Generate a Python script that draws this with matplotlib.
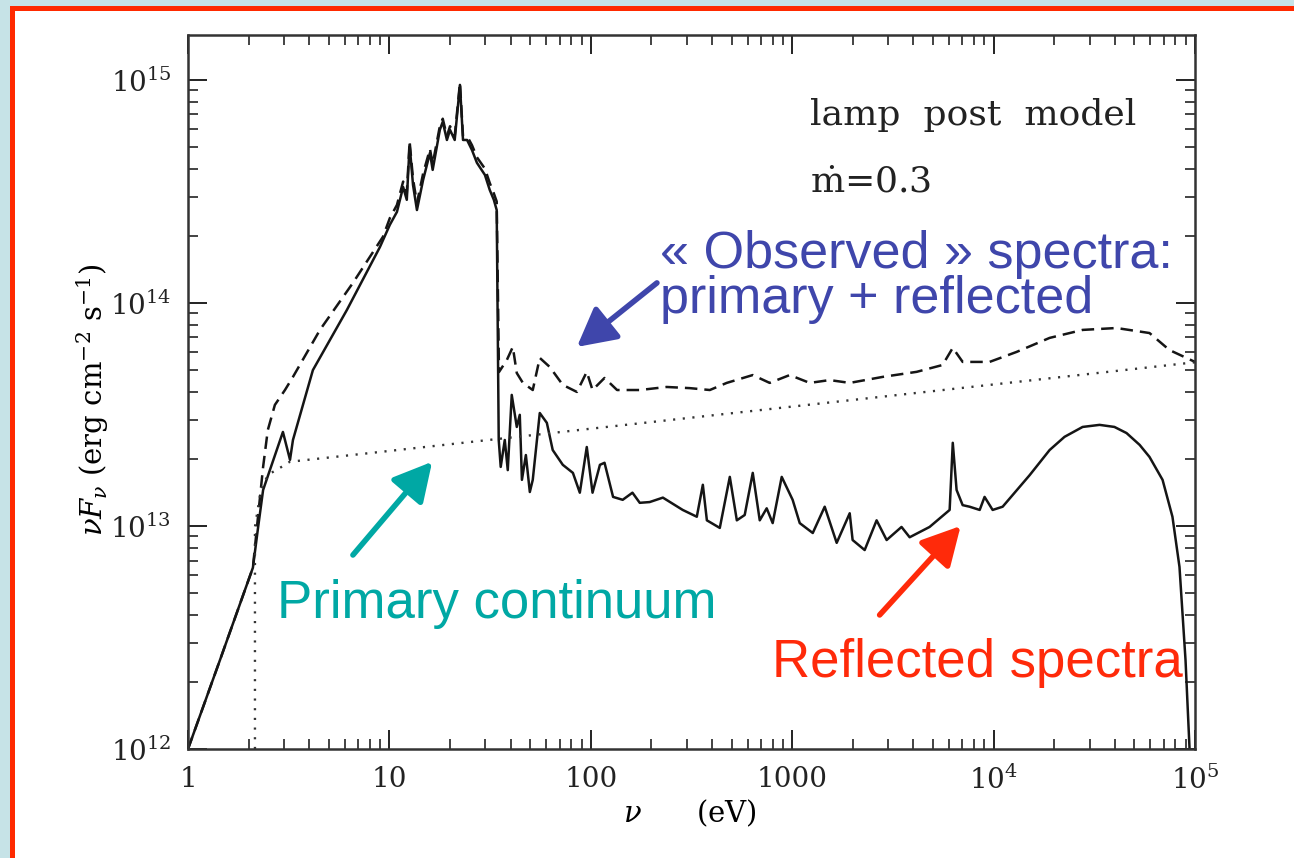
import matplotlib
matplotlib.use("Agg")
import matplotlib.pyplot as plt
from matplotlib.patches import Rectangle
from matplotlib.ticker import LogLocator, NullFormatter

plt.rcParams['mathtext.fontset'] = 'dejavuserif'
plt.rcParams['font.family'] = 'DejaVu Serif'

# reflected spectrum (solid), photon energy in eV and nuFnu in erg cm^-2 s^-1
nu_refl = [1, 1.44, 2.10, 2.23, 2.36, 2.55, 2.96, 3.21, 3.32, 4.17,
           6.15, 8.97, 10.05, 10.9, 11.7, 12.2, 12.6, 13.1, 13.7, 14.7,
           15.9, 16.4, 17.8, 18.4, 19.3, 20.0, 21.1, 22.4, 23.2, 24.3,
           25.7, 27.2, 29.8, 31.5, 33.0, 34.1, 34.9, 35.7, 37.4, 38.7,
           40.5, 42.9, 44.4, 45.5, 47.6, 49.8, 51.5, 55.8, 60.5, 64.7,
           72.6, 81.5, 88.2, 95.5, 102, 111, 117, 129, 144, 161,
           175, 196, 228, 286, 336, 360, 377, 437, 490, 531,
           581, 637, 690, 747, 800, 887, 1005, 1090, 1265, 1450,
           1663, 1930, 1995, 2290, 2625, 2944, 3490, 3830, 4810, 6050,
           6270, 6550, 7020, 7600, 8530, 9020, 9890, 11090, 15100, 18970,
           22500, 27670, 33590, 39800, 45710, 53100, 59430, 69020, 77270, 83750,
           89740, 93970]
F_refl = [1.0e12, 2.5e12, 6.5e12, 9.9e12, 1.45e13, 1.78e13, 2.64e13, 1.98e13, 2.43e13, 5.0e13,
          9.3e13, 1.78e14, 2.24e14, 2.56e14, 3.31e14, 2.90e14, 5.11e14, 3.38e14, 2.61e14, 3.56e14,
          4.71e14, 3.95e14, 5.97e14, 6.49e14, 5.38e14, 5.97e14, 5.38e14, 9.5e14, 5.38e14, 5.38e14,
          4.85e14, 4.25e14, 3.75e14, 3.21e14, 2.90e14, 2.61e14, 2.43e13, 1.84e13, 2.43e13, 1.78e13,
          3.87e13, 2.78e13, 3.15e13, 1.61e13, 2.08e13, 1.42e13, 1.61e13, 3.21e13, 2.90e13, 2.19e13,
          1.88e13, 1.73e13, 1.41e13, 2.26e13, 1.41e13, 1.88e13, 1.92e13, 1.35e13, 1.31e13, 1.41e13,
          1.27e13, 1.28e13, 1.34e13, 1.18e13, 1.10e13, 1.53e13, 1.06e13, 9.8e12, 1.66e13, 1.06e13,
          1.12e13, 1.73e13, 1.06e13, 1.20e13, 1.03e13, 1.66e13, 1.31e13, 1.03e13, 9.3e12, 1.22e13,
          8.4e12, 1.14e13, 8.65e12, 7.8e12, 1.06e13, 8.65e12, 9.9e12, 8.9e12, 9.9e12, 1.18e13,
          2.36e13, 1.45e13, 1.24e13, 1.22e13, 1.18e13, 1.35e13, 1.18e13, 1.22e13, 1.69e13, 2.19e13,
          2.51e13, 2.78e13, 2.84e13, 2.78e13, 2.61e13, 2.31e13, 2.04e13, 1.61e13, 1.10e13, 6.55e12,
          2.5e12, 1.0e12]

# observed = primary + reflected (dashed)
nu_obs = [1, 1.44, 2.10, 2.20, 2.36, 2.49, 2.70, 3.03, 3.32, 4.52,
          6.59, 9.29, 10.05, 10.9, 11.7, 12.2, 12.6, 13.1, 13.7, 14.7,
          15.9, 16.4, 17.8, 18.4, 19.3, 20.0, 21.1, 22.4, 23.2, 24.3,
          25.7, 27.2, 29.8, 31.5, 33.0, 34.1, 35.0, 38.3, 41.0, 42.9,
          46.0, 51.5, 55.8, 62.6, 72.6, 85.3, 95.5, 102, 117, 135,
          175, 238, 310, 390, 473, 637, 773, 972, 1222, 1535,
          1930, 2812, 4150, 5580, 6270, 7020, 9550, 13000, 18970, 27670,
          40740, 59430, 74650, 100000]
F_obs = [1.0e12, 2.5e12, 6.5e12, 9.9e12, 1.84e13, 2.69e13, 3.49e13, 4.07e13, 4.66e13, 7.57e13,
         1.23e14, 1.98e14, 2.4e14, 2.75e14, 3.5e14, 3.1e14, 5.3e14, 3.6e14, 2.8e14, 3.8e14,
         4.9e14, 4.2e14, 6.2e14, 6.7e14, 5.6e14, 6.2e14, 5.6e14, 9.7e14, 5.6e14, 5.6e14,
         5.1e14, 4.5e14, 4.0e14, 3.45e14, 3.1e14, 2.85e14, 4.9e13, 5.55e13, 6.35e13, 4.85e13,
         4.38e13, 4.07e13, 5.67e13, 5.16e13, 4.29e13, 3.99e13, 4.91e13, 4.07e13, 4.61e13, 4.07e13,
         4.07e13, 4.20e13, 4.15e13, 4.07e13, 4.38e13, 4.75e13, 4.38e13, 4.75e13, 4.38e13, 4.51e13,
         4.38e13, 4.66e13, 4.91e13, 5.27e13, 6.29e13, 5.44e13, 5.44e13, 6.03e13, 6.97e13, 7.57e13,
         7.72e13, 7.33e13, 6.15e13, 5.44e13]

# primary power-law continuum (dotted), cut off below ~2 eV
nu_prim = [2.15, 2.15, 2.3, 2.5, 2.8, 3.2, 10, 100, 1000, 1e4, 1e5]
F_prim = [1.0e12, 9.9e12, 1.45e13, 1.7e13, 1.8e13, 1.94e13, 2.17e13, 2.73e13, 3.43e13, 4.31e13, 5.42e13]

xticks = [1, 10, 100, 1000, 1e4, 1e5]
xticklabels = ['1', '10', '100', '1000', r'$10^4$', r'$10^5$']
yticks = [1e12, 1e13, 1e14, 1e15]
yticklabels = [r'$10^{12}$', r'$10^{13}$', r'$10^{14}$', r'$10^{15}$']

W, H = 1294, 858
fig = plt.figure(figsize=(W / 100, H / 100), dpi=100)
fig.patch.set_facecolor('#c6e3e7')
fig.add_artist(Rectangle((10 / W, 0), 1, 1 - 6 / H, transform=fig.transFigure,
                         facecolor='#ff2a00', edgecolor='none', zorder=-3))
fig.add_artist(Rectangle((15 / W, 0), 1, 1 - 11 / H, transform=fig.transFigure,
                         facecolor='white', edgecolor='none', zorder=-2))

ax = fig.add_axes([188 / W, 1 - 749 / H, 1007 / W, 714 / H])
ax.set_facecolor('none')

ax.plot(nu_refl, F_refl, color='#151515', lw=1.8)
ax.plot(nu_obs, F_obs, color='#151515', lw=1.8, dashes=(5, 2.8))
ax.plot(nu_prim, F_prim, color='#333333', lw=1.7, linestyle=(0, (0.9, 3.2)))

ax.set_xscale('log')
ax.set_yscale('log')
ax.set_xlim(1, 1e5)
ax.set_ylim(1e12, 1.59e15)

ax.set_xticks(xticks)
ax.set_xticklabels(xticklabels)
ax.set_yticks(yticks)
ax.set_yticklabels(yticklabels)
ax.xaxis.set_minor_locator(LogLocator(base=10, subs=range(2, 10)))
ax.yaxis.set_minor_locator(LogLocator(base=10, subs=range(2, 10)))
ax.xaxis.set_minor_formatter(NullFormatter())
ax.yaxis.set_minor_formatter(NullFormatter())
ax.tick_params(which='both', direction='in', top=True, right=True,
               colors='#222222', labelsize=20, pad=12)
ax.tick_params(which='major', length=14, width=1.4)
ax.tick_params(which='minor', length=7, width=1.2)
for sp in ax.spines.values():
    sp.set_linewidth(1.8)
    sp.set_color('#333333')

fig.text(93 / W, 1 - 400 / H, r'$\nu F_\nu$ (erg cm$^{-2}$ s$^{-1}$)',
         rotation=90, ha='center', va='center', fontsize=21)
fig.text(690 / W, 1 - 813 / H, r'$\nu$      (eV)', ha='center', va='center', fontsize=21)

ax.text(0.6177, 0.8739, 'lamp  post  model', transform=ax.transAxes,
        fontsize=26, color='#222222', va='baseline')
ax.text(0.6177, 0.7801, r'$\dot{\rm m}$=0.3', transform=ax.transAxes,
        fontsize=26, color='#222222', va='baseline')

sans = 'Liberation Sans'
blue, teal, red = '#3f46ab', '#00a8a4', '#ff2a0a'
ax.text(0.4687, 0.6737, '« Observed » spectra:', transform=ax.transAxes,
        fontsize=37.5, family=sans, color=blue, va='baseline')
ax.text(0.4687, 0.6100, 'primary + reflected', transform=ax.transAxes,
        fontsize=37.5, family=sans, color=blue, va='baseline')
ax.text(0.0884, 0.1835, 'Primary continuum', transform=ax.transAxes,
        fontsize=38, family=sans, color=teal, va='baseline')
ax.text(0.5799, 0.1008, 'Reflected spectra', transform=ax.transAxes,
        fontsize=38, family=sans, color=red, va='baseline')

arrow = dict(arrowstyle='-|>,head_length=0.45,head_width=0.24', lw=4,
             mutation_scale=52, shrinkA=0, shrinkB=0)
ax.annotate('', xy=(85.3, 6.35e13), xytext=(213, 1.23e14),
            arrowprops=dict(arrow, color=blue), annotation_clip=False)
ax.annotate('', xy=(16.3, 1.94e13), xytext=(6.59, 7.41e12),
            arrowprops=dict(arrow, color=teal), annotation_clip=False)
ax.annotate('', xy=(6860, 1.0e13), xytext=(2717, 3.99e12),
            arrowprops=dict(arrow, color=red), annotation_clip=False)

fig.savefig('out.png', dpi=100)
